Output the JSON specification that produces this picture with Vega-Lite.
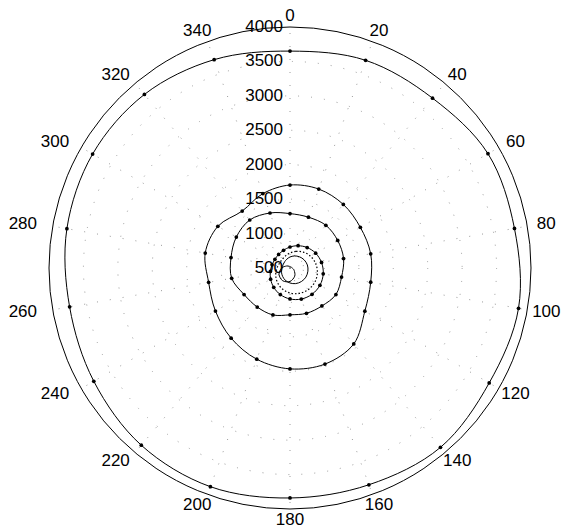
{
  "$schema": "https://vega.github.io/schema/vega-lite/v6.json",
  "width": 482,
  "height": 482,
  "autosize": {"type": "none"},
  "padding": {"left": 49, "top": 27, "right": 36, "bottom": 23},
  "background": "white",
  "config": {"view": {"stroke": null}, "font": "Liberation Sans"},
  "datasets": {
    "curves": [
      {"s": "A", "a": 0, "r": 3650}, {"s": "A", "a": 20, "r": 3710}, {"s": "A", "a": 40, "r": 3720}, {"s": "A", "a": 60, "r": 3820}, {"s": "A", "a": 80, "r": 3810}, {"s": "A", "a": 100, "r": 3870}, {"s": "A", "a": 120, "r": 3840}, {"s": "A", "a": 140, "r": 3900}, {"s": "A", "a": 160, "r": 3850}, {"s": "A", "a": 180, "r": 3840}, {"s": "A", "a": 200, "r": 3880}, {"s": "A", "a": 220, "r": 3860}, {"s": "A", "a": 240, "r": 3790}, {"s": "A", "a": 260, "r": 3750}, {"s": "A", "a": 280, "r": 3790}, {"s": "A", "a": 300, "r": 3810}, {"s": "A", "a": 320, "r": 3790}, {"s": "A", "a": 340, "r": 3720},
      {"s": "B", "a": 0, "r": 1705}, {"s": "B", "a": 20, "r": 1720}, {"s": "B", "a": 40, "r": 1705}, {"s": "B", "a": 60, "r": 1680}, {"s": "B", "a": 80, "r": 1690}, {"s": "B", "a": 100, "r": 1690}, {"s": "B", "a": 120, "r": 1755}, {"s": "B", "a": 140, "r": 1940}, {"s": "B", "a": 160, "r": 1985}, {"s": "B", "a": 180, "r": 1965}, {"s": "B", "a": 200, "r": 1910}, {"s": "B", "a": 220, "r": 1830}, {"s": "B", "a": 240, "r": 1750}, {"s": "B", "a": 260, "r": 1700}, {"s": "B", "a": 280, "r": 1750}, {"s": "B", "a": 300, "r": 1710}, {"s": "B", "a": 320, "r": 1580}, {"s": "B", "a": 340, "r": 1650},
      {"s": "C", "a": 0, "r": 1290}, {"s": "C", "a": 20, "r": 1285}, {"s": "C", "a": 40, "r": 1310}, {"s": "C", "a": 60, "r": 1300}, {"s": "C", "a": 80, "r": 1290}, {"s": "C", "a": 100, "r": 1260}, {"s": "C", "a": 120, "r": 1270}, {"s": "C", "a": 140, "r": 1220}, {"s": "C", "a": 160, "r": 1200}, {"s": "C", "a": 180, "r": 1180}, {"s": "C", "a": 200, "r": 1225}, {"s": "C", "a": 220, "r": 1240}, {"s": "C", "a": 240, "r": 1270}, {"s": "C", "a": 260, "r": 1360}, {"s": "C", "a": 280, "r": 1370}, {"s": "C", "a": 300, "r": 1400}, {"s": "C", "a": 320, "r": 1410}, {"s": "C", "a": 340, "r": 1350},
      {"s": "D", "a": 0, "r": 805}, {"s": "D", "a": 20, "r": 844}, {"s": "D", "a": 40, "r": 888}, {"s": "D", "a": 60, "r": 930}, {"s": "D", "a": 80, "r": 965}, {"s": "D", "a": 100, "r": 990}, {"s": "D", "a": 120, "r": 1002}, {"s": "D", "a": 140, "r": 998}, {"s": "D", "a": 160, "r": 980}, {"s": "D", "a": 180, "r": 950}, {"s": "D", "a": 200, "r": 911}, {"s": "D", "a": 220, "r": 867}, {"s": "D", "a": 240, "r": 825}, {"s": "D", "a": 260, "r": 790}, {"s": "D", "a": 280, "r": 764}, {"s": "D", "a": 300, "r": 753}, {"s": "D", "a": 320, "r": 757}, {"s": "D", "a": 340, "r": 774},
      {"s": "E", "a": 0, "r": 718}, {"s": "E", "a": 20, "r": 757}, {"s": "E", "a": 40, "r": 801}, {"s": "E", "a": 60, "r": 843}, {"s": "E", "a": 80, "r": 878}, {"s": "E", "a": 100, "r": 904}, {"s": "E", "a": 120, "r": 915}, {"s": "E", "a": 140, "r": 911}, {"s": "E", "a": 160, "r": 893}, {"s": "E", "a": 180, "r": 863}, {"s": "E", "a": 200, "r": 824}, {"s": "E", "a": 220, "r": 780}, {"s": "E", "a": 240, "r": 738}, {"s": "E", "a": 260, "r": 703}, {"s": "E", "a": 280, "r": 677}, {"s": "E", "a": 300, "r": 666}, {"s": "E", "a": 320, "r": 670}, {"s": "E", "a": 340, "r": 687},
      {"s": "F", "a": 0, "r": 660}, {"s": "F", "a": 20, "r": 686}, {"s": "F", "a": 40, "r": 713}, {"s": "F", "a": 60, "r": 737}, {"s": "F", "a": 80, "r": 756}, {"s": "F", "a": 100, "r": 764}, {"s": "F", "a": 120, "r": 766}, {"s": "F", "a": 140, "r": 757}, {"s": "F", "a": 160, "r": 741}, {"s": "F", "a": 180, "r": 718}, {"s": "F", "a": 200, "r": 692}, {"s": "F", "a": 220, "r": 664}, {"s": "F", "a": 240, "r": 641}, {"s": "F", "a": 260, "r": 622}, {"s": "F", "a": 280, "r": 613}, {"s": "F", "a": 300, "r": 612}, {"s": "F", "a": 320, "r": 620}, {"s": "F", "a": 340, "r": 636},
      {"s": "G", "a": 0, "r": 521}, {"s": "G", "a": 30, "r": 519}, {"s": "G", "a": 60, "r": 522}, {"s": "G", "a": 90, "r": 533}, {"s": "G", "a": 120, "r": 570}, {"s": "G", "a": 150, "r": 637}, {"s": "G", "a": 180, "r": 695}, {"s": "G", "a": 210, "r": 713}, {"s": "G", "a": 240, "r": 684}, {"s": "G", "a": 270, "r": 620}, {"s": "G", "a": 300, "r": 558}, {"s": "G", "a": 330, "r": 529}
    ],
    "rings": [{"r": 1000, "k": "grid"}, {"r": 1500, "k": "grid"}, {"r": 2000, "k": "grid"}, {"r": 2500, "k": "grid"}, {"r": 3000, "k": "grid"}, {"r": 3500, "k": "grid"}, {"r": 4000, "k": "outer"}],
    "angles": [
      {"a": 0, "lab": "0"}, {"a": 20, "lab": "20"}, {"a": 40, "lab": "40"}, {"a": 60, "lab": "60"}, {"a": 80, "lab": "80"}, {"a": 100, "lab": "100"}, {"a": 120, "lab": "120"}, {"a": 140, "lab": "140"}, {"a": 160, "lab": "160"}, {"a": 180, "lab": "180"}, {"a": 200, "lab": "200"}, {"a": 220, "lab": "220"}, {"a": 240, "lab": "240"}, {"a": 260, "lab": "260"}, {"a": 280, "lab": "280"}, {"a": 300, "lab": "300"}, {"a": 320, "lab": "320"}, {"a": 340, "lab": "340"}
    ],
    "rticks": [
      {"r": 500, "lab": "500"}, {"r": 1000, "lab": "1000"}, {"r": 1500, "lab": "1500"}, {"r": 2000, "lab": "2000"}, {"r": 2500, "lab": "2500"}, {"r": 3000, "lab": "3000"}, {"r": 3500, "lab": "3500"}, {"r": 4000, "lab": "4000"}
    ]
  },
  "layer": [
    {
      "data": {"name": "rings"},
      "transform": [
        {"filter": "datum.k === 'grid'"},
        {"calculate": "datum.r-500", "as": "rr"},
        {"calculate": "0", "as": "cx"},
        {"calculate": "0", "as": "cy"}
      ],
      "mark": {"type": "point", "shape": "circle", "filled": false, "fill": null, "stroke": "#9a9a9a", "strokeWidth": 1, "strokeDash": [1, 12], "opacity": 1},
      "encoding": {
        "x": {"field": "cx", "type": "quantitative", "scale": {"domain": [-3500, 3500]}, "axis": null},
        "y": {"field": "cy", "type": "quantitative", "scale": {"domain": [-3500, 3500]}, "axis": null},
        "size": {"field": "rr", "type": "quantitative", "scale": {"type": "pow", "exponent": 2, "domain": [0, 3500], "range": [0, 232324], "zero": true}, "legend": null}
      }
    },
    {
      "data": {"name": "angles"},
      "transform": [
        {"calculate": "0", "as": "cx"},
        {"calculate": "0", "as": "cy"},
        {"calculate": "3500*sin(datum.a*PI/180)", "as": "xe"},
        {"calculate": "3500*cos(datum.a*PI/180)", "as": "ye"}
      ],
      "mark": {"type": "rule", "stroke": "#9a9a9a", "strokeWidth": 1, "strokeDash": [1, 12]},
      "encoding": {
        "x": {"field": "cx", "type": "quantitative", "scale": {"domain": [-3500, 3500]}, "axis": null},
        "y": {"field": "cy", "type": "quantitative", "scale": {"domain": [-3500, 3500]}, "axis": null},
        "x2": {"field": "xe"},
        "y2": {"field": "ye"}
      }
    },
    {
      "data": {"name": "rings"},
      "transform": [
        {"filter": "datum.k === 'outer'"},
        {"calculate": "datum.r-500", "as": "rr"},
        {"calculate": "0", "as": "cx"},
        {"calculate": "0", "as": "cy"}
      ],
      "mark": {"type": "point", "shape": "circle", "filled": false, "fill": null, "stroke": "black", "strokeWidth": 1, "opacity": 1},
      "encoding": {
        "x": {"field": "cx", "type": "quantitative", "scale": {"domain": [-3500, 3500]}, "axis": null},
        "y": {"field": "cy", "type": "quantitative", "scale": {"domain": [-3500, 3500]}, "axis": null},
        "size": {"field": "rr", "type": "quantitative", "scale": {"type": "pow", "exponent": 2, "domain": [0, 3500], "range": [0, 232324], "zero": true}, "legend": null}
      }
    },
    {
      "data": {"name": "curves"},
      "transform": [
        {"filter": "datum.s !== 'E'"},
        {"calculate": "(datum.r-500)*sin(datum.a*PI/180)", "as": "px"},
        {"calculate": "(datum.r-500)*cos(datum.a*PI/180)", "as": "py"}
      ],
      "mark": {"type": "line", "stroke": "black", "strokeWidth": 1, "interpolate": "cardinal-closed", "tension": 0},
      "encoding": {
        "x": {"field": "px", "type": "quantitative", "scale": {"domain": [-3500, 3500]}, "axis": null},
        "y": {"field": "py", "type": "quantitative", "scale": {"domain": [-3500, 3500]}, "axis": null},
        "detail": {"field": "s"},
        "order": {"field": "a", "type": "quantitative"}
      }
    },
    {
      "data": {"name": "curves"},
      "transform": [
        {"filter": "datum.s === 'E'"},
        {"calculate": "(datum.r-500)*sin(datum.a*PI/180)", "as": "px"},
        {"calculate": "(datum.r-500)*cos(datum.a*PI/180)", "as": "py"}
      ],
      "mark": {"type": "line", "stroke": "black", "strokeWidth": 1.2, "strokeDash": [1.5, 2], "interpolate": "cardinal-closed", "tension": 0},
      "encoding": {
        "x": {"field": "px", "type": "quantitative", "scale": {"domain": [-3500, 3500]}, "axis": null},
        "y": {"field": "py", "type": "quantitative", "scale": {"domain": [-3500, 3500]}, "axis": null},
        "detail": {"field": "s"},
        "order": {"field": "a", "type": "quantitative"}
      }
    },
    {
      "data": {"name": "curves"},
      "transform": [
        {"filter": "indexof(['A','B','C','D'], datum.s) >= 0"},
        {"calculate": "(datum.r-500)*sin(datum.a*PI/180)", "as": "px"},
        {"calculate": "(datum.r-500)*cos(datum.a*PI/180)", "as": "py"}
      ],
      "mark": {"type": "point", "shape": "circle", "filled": true, "fill": "black", "size": 14, "opacity": 1},
      "encoding": {
        "x": {"field": "px", "type": "quantitative", "scale": {"domain": [-3500, 3500]}, "axis": null},
        "y": {"field": "py", "type": "quantitative", "scale": {"domain": [-3500, 3500]}, "axis": null}
      }
    },
    {
      "data": {"name": "rticks"},
      "transform": [
        {"calculate": "datum.r-500", "as": "rr"},
        {"calculate": "0", "as": "cx"}
      ],
      "mark": {"type": "text", "align": "right", "baseline": "middle", "dx": -7, "fontSize": 17, "fill": "black"},
      "encoding": {
        "x": {"field": "cx", "type": "quantitative", "scale": {"domain": [-3500, 3500]}, "axis": null},
        "y": {"field": "rr", "type": "quantitative", "scale": {"domain": [-3500, 3500]}, "axis": null},
        "text": {"field": "lab"}
      }
    },
    {
      "data": {"name": "angles"},
      "transform": [
        {"calculate": "(datum.a > 180 ? 3940 : 3780)*sin(datum.a*PI/180)", "as": "lx"},
        {"calculate": "3660*cos(datum.a*PI/180)", "as": "ly"}
      ],
      "mark": {"type": "text", "align": "center", "baseline": "middle", "fontSize": 17, "fill": "black"},
      "encoding": {
        "x": {"field": "lx", "type": "quantitative", "scale": {"domain": [-3500, 3500]}, "axis": null},
        "y": {"field": "ly", "type": "quantitative", "scale": {"domain": [-3500, 3500]}, "axis": null},
        "text": {"field": "lab"}
      }
    }
  ]
}
